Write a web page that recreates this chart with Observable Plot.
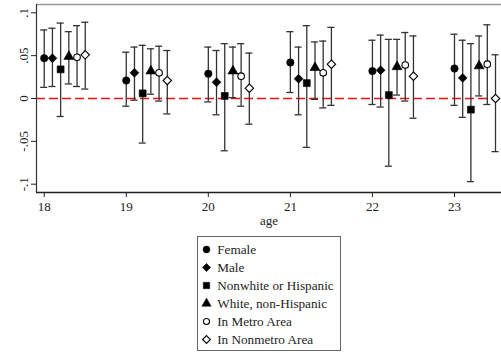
<!DOCTYPE html>
<html>
<head>
<meta charset="utf-8">
<script src="https://cdn.jsdelivr.net/npm/d3@7"></script>
<script src="https://cdn.jsdelivr.net/npm/@observablehq/plot@0.6"></script>
<style>
  html, body { margin: 0; padding: 0; background: #fff; }
  #wrap { position: relative; width: 501px; height: 353px; overflow: hidden; font-family: "Liberation Serif", "Times New Roman", serif; }
  #legend { position: absolute; left: 197px; top: 236px; border: 1px solid #666; line-height: 0; }
</style>
</head>
<body>
<div id="wrap">
  <div id="chart"></div>
  <div id="legend"></div>
</div>
<script>
// ---- Data ----
const ages = [18, 19, 20, 21, 22, 23];
const seriesNames = ["Female", "Male", "Nonwhite or Hispanic", "White, non-Hispanic", "In Metro Area", "In Nonmetro Area"];
const ageOffsets = [0, 0.1, 0.2, 0.3, 0.4, 0.5];

const femaleEst = [0.047, 0.021, 0.029, 0.042, 0.032, 0.035];
const femaleLo  = [0.013, -0.009, -0.004, 0.007, -0.007, -0.008];
const femaleHi  = [0.080, 0.054, 0.060, 0.078, 0.068, 0.075];

const maleEst = [0.047, 0.030, 0.019, 0.023, 0.033, 0.024];
const maleLo  = [0.014, -0.002, -0.019, -0.019, -0.010, -0.022];
const maleHi  = [0.082, 0.060, 0.056, 0.060, 0.074, 0.068];

const nonwhiteEst = [0.034, 0.006, 0.003, 0.018, 0.004, -0.013];
const nonwhiteLo  = [-0.021, -0.052, -0.061, -0.057, -0.079, -0.097];
const nonwhiteHi  = [0.088, 0.062, 0.064, 0.085, 0.069, 0.064];

const whiteEst = [0.049, 0.032, 0.032, 0.036, 0.037, 0.038];
const whiteLo  = [0.017, 0.005, 0.001, -0.001, 0.004, 0.003];
const whiteHi  = [0.078, 0.058, 0.060, 0.066, 0.069, 0.073];

const metroEst = [0.048, 0.030, 0.026, 0.030, 0.039, 0.040];
const metroLo  = [0.014, -0.003, -0.009, -0.011, -0.003, -0.007];
const metroHi  = [0.085, 0.061, 0.064, 0.067, 0.077, 0.086];

const nonmetroEst = [0.051, 0.021, 0.012, 0.040, 0.026, 0.000];
const nonmetroLo  = [0.011, -0.018, -0.030, -0.008, -0.023, -0.062];
const nonmetroHi  = [0.089, 0.056, 0.053, 0.083, 0.073, 0.051];

const yTicks = [0.1, 0.05, 0, -0.05, -0.1];
const yTickLabels = [".1", ".05", "0", "-.05", "-.1"];
const xLabel = "age";

// ---- Styles (separate from data) ----
const serif = "'Liberation Serif', 'Times New Roman', serif";
const seriesStyle = [
  {symbol: "circle",   fill: "black", r: 3.7},
  {symbol: "diamond2", fill: "black", r: 4.0},
  {symbol: "square",   fill: "black", r: 3.9},
  {symbol: "triangle", fill: "black", r: 3.7},
  {symbol: "circle",   fill: "white", r: 3.3},
  {symbol: "diamond2", fill: "white", r: 3.8}
];

const estAll = [femaleEst, maleEst, nonwhiteEst, whiteEst, metroEst, nonmetroEst];
const loAll  = [femaleLo, maleLo, nonwhiteLo, whiteLo, metroLo, nonmetroLo];
const hiAll  = [femaleHi, maleHi, nonwhiteHi, whiteHi, metroHi, nonmetroHi];

const rows = [];
seriesNames.forEach((name, s) => {
  ages.forEach((age, i) => {
    rows.push({series: name, s, age, x: age + ageOffsets[s], est: estAll[s][i], lo: loAll[s][i], hi: hiAll[s][i]});
  });
});

const xDomain = [17.906, 23.573];
const yDomain = [-0.1097, 0.1097];
const capHalf = 0.043;
const barColor = "#333";

const dotMarks = seriesNames.map((name, s) =>
  Plot.dot(rows.filter(d => d.s === s), {
    x: "x", y: "est",
    symbol: seriesStyle[s].symbol,
    r: seriesStyle[s].r,
    fill: seriesStyle[s].fill,
    stroke: "black",
    strokeWidth: seriesStyle[s].fill === "white" ? 1.1 : 0.6
  })
);

const chart = Plot.plot({
  width: 501,
  height: 230,
  marginTop: 4,
  marginBottom: 38,
  marginLeft: 36,
  marginRight: 0,
  style: {fontFamily: serif, fontSize: "13px", color: "#222", background: "white"},
  x: {domain: xDomain},
  y: {domain: yDomain},
  marks: [
    Plot.ruleY([0], {stroke: "#ee1111", strokeWidth: 1.4, strokeDasharray: "9,4"}),
    Plot.ruleX(rows, {x: "x", y1: "lo", y2: "hi", stroke: barColor, strokeWidth: 1.3}),
    Plot.ruleY(rows, {y: "hi", x1: d => d.x - capHalf, x2: d => d.x + capHalf, stroke: barColor, strokeWidth: 1.3}),
    Plot.ruleY(rows, {y: "lo", x1: d => d.x - capHalf, x2: d => d.x + capHalf, stroke: barColor, strokeWidth: 1.3}),
    ...dotMarks,
    Plot.ruleY([yDomain[1]], {stroke: "#999", strokeWidth: 1.6}),
    Plot.ruleX([xDomain[0]], {stroke: "#333", strokeWidth: 1.2}),
    Plot.ruleY([yDomain[0]], {stroke: "#222", strokeWidth: 1.4}),
    Plot.axisX({ticks: ages, tickSize: 5, tickPadding: 4, tickFormat: d => String(d), label: xLabel, labelAnchor: "center", labelOffset: 32, labelArrow: "none"}),
    Plot.axisY({ticks: yTicks, tickSize: 5, tickPadding: 4, tickRotate: -90, tickFormat: (d, i) => yTickLabels[yTicks.indexOf(d)], label: null})
  ]
});
document.getElementById("chart").appendChild(chart);

// ---- Legend (drawn with Plot) ----
const legendRows = seriesNames.map((name, s) => ({name, s}));
const legendDots = legendRows.map(d =>
  Plot.dot([d], {
    y: "name", frameAnchor: "left", dx: 8,
    symbol: seriesStyle[d.s].symbol,
    r: seriesStyle[d.s].r * 0.92,
    fill: seriesStyle[d.s].fill,
    stroke: "black",
    strokeWidth: seriesStyle[d.s].fill === "white" ? 1.1 : 0.6
  })
);
const legend = Plot.plot({
  width: 142,
  height: 113,
  margin: 0,
  style: {fontFamily: serif, fontSize: "13.2px", color: "#222", background: "white"},
  y: {type: "point", domain: seriesNames, range: [11.3, 103.3], padding: 0, axis: null},
  marks: [
    ...legendDots,
    Plot.text(legendRows, {y: "name", text: "name", frameAnchor: "left", dx: 18.7, textAnchor: "start", fill: "#222", fontSize: 13.2, fontFamily: serif})
  ]
});
document.getElementById("legend").appendChild(legend);
</script>
</body>
</html>
